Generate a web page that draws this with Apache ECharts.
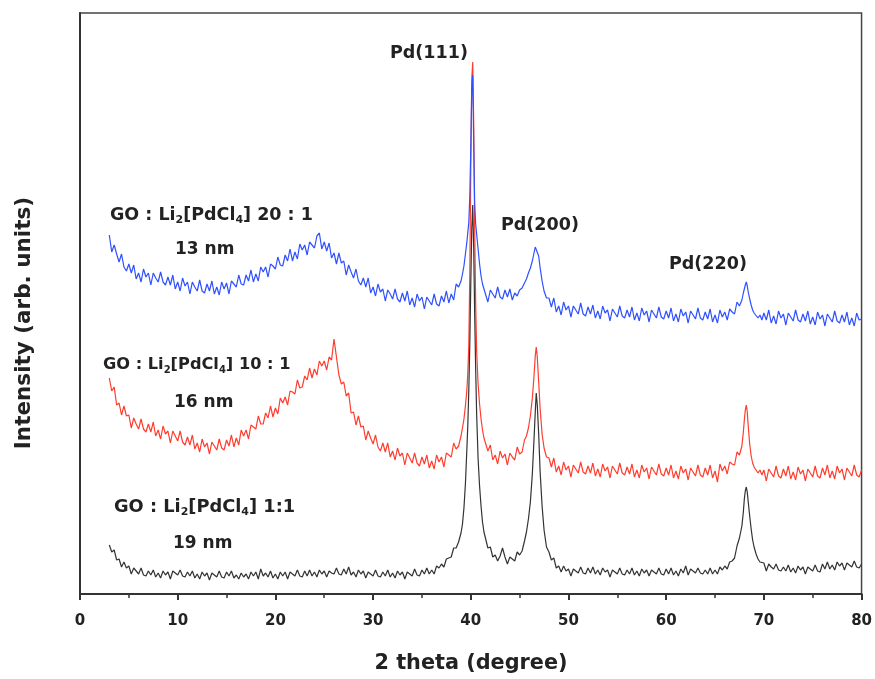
<!DOCTYPE html>
<html>
<head>
<meta charset="utf-8">
<script src="https://cdn.jsdelivr.net/npm/echarts@6/dist/echarts.min.js"></script>
<style>
  html, body { margin: 0; padding: 0; background: #fff; }
  #chart { width: 875px; height: 679px; }
</style>
</head>
<body>
<div id="chart"></div>
<script>
// 2 theta grid (degree): 0.25 steps, finer around the Pd reflections
const twoTheta = [
  3, 3.25, 3.5, 3.75, 4, 4.25, 4.5, 4.75,
  5, 5.25, 5.5, 5.75, 6, 6.25, 6.5, 6.75,
  7, 7.25, 7.5, 7.75, 8, 8.25, 8.5, 8.75,
  9, 9.25, 9.5, 9.75, 10, 10.25, 10.5, 10.75,
  11, 11.25, 11.5, 11.75, 12, 12.25, 12.5, 12.75,
  13, 13.25, 13.5, 13.75, 14, 14.25, 14.5, 14.75,
  15, 15.25, 15.5, 15.75, 16, 16.25, 16.5, 16.75,
  17, 17.25, 17.5, 17.75, 18, 18.25, 18.5, 18.75,
  19, 19.25, 19.5, 19.75, 20, 20.25, 20.5, 20.75,
  21, 21.25, 21.5, 21.75, 22, 22.25, 22.5, 22.75,
  23, 23.25, 23.5, 23.75, 24, 24.25, 24.5, 24.75,
  25, 25.25, 25.5, 25.75, 26, 26.25, 26.5, 26.75,
  27, 27.25, 27.5, 27.75, 28, 28.25, 28.5, 28.75,
  29, 29.25, 29.5, 29.75, 30, 30.25, 30.5, 30.75,
  31, 31.25, 31.5, 31.75, 32, 32.25, 32.5, 32.75,
  33, 33.25, 33.5, 33.75, 34, 34.25, 34.5, 34.75,
  35, 35.25, 35.5, 35.75, 36, 36.25, 36.5, 36.75,
  37, 37.25, 37.5, 37.75, 38, 38.25, 38.5, 38.75,
  39,
  39.15, 39.3, 39.45, 39.6, 39.7, 39.8, 39.9, 40.0, 40.1, 40.2,
  40.3, 40.4, 40.5, 40.6, 40.75, 40.9, 41.05, 41.2, 41.35,
  41.5, 41.75, 42, 42.25, 42.5, 42.75, 43, 43.25, 43.5,
  43.75, 44, 44.25, 44.5, 44.75, 45, 45.25, 45.5,
  45.7, 45.9, 46.1, 46.3, 46.45, 46.6, 46.7, 46.8, 46.95, 47.1, 47.3, 47.5, 47.75,
  48, 48.25, 48.5, 48.75, 49, 49.25, 49.5, 49.75,
  50, 50.25, 50.5, 50.75, 51, 51.25, 51.5, 51.75,
  52, 52.25, 52.5, 52.75, 53, 53.25, 53.5, 53.75,
  54, 54.25, 54.5, 54.75, 55, 55.25, 55.5, 55.75,
  56, 56.25, 56.5, 56.75, 57, 57.25, 57.5, 57.75,
  58, 58.25, 58.5, 58.75, 59, 59.25, 59.5, 59.75,
  60, 60.25, 60.5, 60.75, 61, 61.25, 61.5, 61.75,
  62, 62.25, 62.5, 62.75, 63, 63.25, 63.5, 63.75,
  64, 64.25, 64.5, 64.75, 65, 65.25, 65.5, 65.75,
  66, 66.25, 66.5, 66.75, 67, 67.25, 67.5, 67.75,
  67.9, 68.0, 68.1, 68.2, 68.3, 68.4, 68.55, 68.7, 68.85, 69.0, 69.2, 69.4, 69.6, 69.8,
  70, 70.25, 70.5, 70.75, 71, 71.25, 71.5, 71.75,
  72, 72.25, 72.5, 72.75, 73, 73.25, 73.5, 73.75,
  74, 74.25, 74.5, 74.75, 75, 75.25, 75.5, 75.75,
  76, 76.25, 76.5, 76.75, 77, 77.25, 77.5, 77.75,
  78, 78.25, 78.5, 78.75, 79, 79.25, 79.5, 79.75,
  80
];

// GO : Li2[PdCl4] 1:1 (19 nm), stacked trace, arb. units
const ratio1to1 = [
  49, 42, 44, 34, 35, 27, 32, 26,
  28, 20, 26, 23, 20, 26, 19, 18,
  23, 19, 24, 17, 21, 16, 23, 19,
  22, 15, 23, 21, 19, 24, 18, 17,
  22, 18, 23, 16, 20, 15, 22, 18,
  21, 14, 21, 19, 17, 23, 17, 16,
  22, 18, 23, 16, 19, 15, 21, 17,
  20, 15, 22, 18, 22, 15, 25, 18,
  21, 17, 23, 16, 20, 15, 22, 18,
  22, 15, 22, 20, 18, 24, 18, 17,
  23, 18, 24, 18, 22, 17, 24, 20,
  23, 17, 23, 21, 20, 26, 20, 19,
  25, 20, 27, 19, 22, 17, 24, 20,
  23, 16, 22, 20, 18, 24, 18, 17,
  22, 18, 24, 17, 21, 16, 23, 19,
  22, 15, 22, 20, 18, 25, 19, 18,
  24, 20, 26, 20, 24, 20, 28, 26,
  30, 27, 35, 36, 37, 46, 46, 52,
  61,
  70, 86, 110, 145, 170, 205, 250, 310, 365, 389,
  345, 280, 225, 180, 135, 108, 88, 72, 62,
  56, 46, 47, 37, 39, 33, 38, 46, 37,
  30, 37, 35, 33, 42, 39, 43, 53,
  62, 75, 92, 120, 150, 182, 201, 190, 160, 122, 88, 64, 47,
  42, 34, 36, 26, 28, 22, 28, 23,
  25, 18, 25, 23, 21, 27, 21, 20,
  26, 21, 27, 20, 24, 19, 26, 22,
  24, 17, 24, 22, 20, 26, 20, 19,
  24, 20, 26, 19, 23, 18, 25, 21,
  24, 18, 24, 22, 20, 26, 20, 19,
  25, 20, 26, 19, 23, 18, 25, 21,
  28, 19, 25, 23, 21, 26, 21, 20,
  24, 20, 26, 20, 24, 20, 27, 24,
  28, 25, 32, 33, 36, 48, 56, 68,
  82, 95, 103, 107, 102, 92, 78, 65, 54, 47, 40, 35, 32, 30,
  31, 23, 30, 27, 25, 30, 24, 23,
  27, 23, 29, 22, 26, 21, 28, 24,
  27, 20, 27, 25, 23, 29, 23, 22,
  30, 25, 32, 25, 29, 24, 32, 28,
  31, 24, 31, 29, 27, 33, 27, 26,
  30
];

// GO : Li2[PdCl4] 10:1 (16 nm)
const ratio10to1 = [
  216, 203, 207, 189, 191, 179, 188, 178,
  179, 166, 176, 170, 165, 175, 165, 162,
  170, 162, 172, 158, 164, 155, 168, 160,
  163, 151, 163, 158, 153, 163, 152, 149,
  157, 149, 159, 145, 151, 142, 155, 147,
  151, 140, 152, 148, 144, 155, 146, 144,
  154, 148, 159, 147, 156, 149, 164, 158,
  164, 155, 169, 167, 165, 178, 170, 170,
  181, 176, 188, 177, 186, 180, 196, 191,
  197, 189, 203, 202, 200, 214, 206, 207,
  218, 214, 226, 216, 225, 219, 233, 228,
  233, 224, 237, 234, 255, 237, 219, 210,
  212, 198, 201, 181, 182, 169, 178, 167,
  168, 154, 163, 156, 150, 159, 147, 143,
  151, 142, 151, 137, 143, 134, 146, 138,
  141, 129, 141, 136, 131, 141, 131, 128,
  137, 130, 139, 126, 133, 125, 139, 132,
  137, 127, 141, 139, 137, 151, 145, 148,
  158,
  166, 175, 188, 204, 222, 250, 320, 425, 515, 532,
  470, 365, 290, 243, 210, 190, 175, 164, 156,
  154, 143, 149, 134, 139, 130, 143, 136, 140,
  129, 141, 137, 134, 147, 140, 142, 154,
  158, 166, 178, 196, 215, 238, 247, 238, 212, 185, 160, 146, 137,
  136, 127, 136, 122, 128, 119, 132, 124,
  128, 117, 129, 125, 121, 132, 122, 120,
  128, 121, 131, 118, 125, 117, 130, 123,
  127, 116, 128, 124, 120, 131, 121, 119,
  127, 120, 130, 117, 124, 116, 129, 122,
  126, 115, 127, 123, 119, 130, 120, 118,
  126, 119, 129, 116, 123, 115, 128, 121,
  125, 114, 126, 122, 118, 129, 119, 117,
  126, 119, 129, 116, 123, 112, 130, 123,
  128, 120, 132, 130, 129, 142, 139, 148,
  162, 174, 184, 189, 182, 168, 150, 138, 131, 127, 124, 121, 124, 119,
  124, 113, 125, 121, 117, 128, 118, 116,
  125, 118, 128, 115, 122, 114, 127, 120,
  124, 113, 125, 121, 117, 128, 118, 116,
  126, 119, 129, 116, 123, 115, 128, 121,
  125, 114, 126, 122, 118, 129, 119, 117,
  124
];

// GO : Li2[PdCl4] 20:1 (13 nm)
const ratio20to1 = [
  359, 342, 349, 340, 332, 340, 327, 323,
  330, 321, 329, 315, 321, 312, 325, 317,
  321, 309, 321, 316, 312, 322, 312, 309,
  317, 309, 319, 305, 312, 303, 316, 308,
  312, 300, 312, 307, 303, 314, 303, 301,
  310, 303, 313, 300, 307, 299, 312, 305,
  311, 300, 313, 310, 307, 319, 310, 309,
  319, 313, 324, 312, 320, 313, 327, 322,
  327, 317, 330, 328, 325, 337, 329, 328,
  339, 333, 345, 333, 342, 335, 350, 344,
  349, 339, 352, 349, 346, 358, 361, 345,
  352, 343, 351, 336, 341, 330, 341, 331,
  333, 319, 329, 322, 316, 325, 313, 309,
  316, 307, 316, 301, 307, 298, 310, 302,
  305, 293, 304, 300, 295, 305, 295, 292,
  301, 293, 303, 289, 296, 287, 300, 293,
  297, 285, 297, 293, 289, 300, 290, 288,
  298, 292, 303, 291, 300, 294, 310, 307,
  313,
  320, 328, 340, 352, 362, 372, 398, 445, 505, 519,
  450, 390, 370, 360, 345, 330, 318, 310, 305,
  305, 292, 304, 300, 296, 307, 297, 295, 304,
  297, 305, 294, 301, 298, 304, 306, 311,
  315, 321, 326, 333, 340, 347, 349, 346, 338, 326, 313, 303, 296,
  296, 287, 296, 282, 288, 279, 292, 284,
  288, 277, 288, 284, 280, 291, 280, 278,
  287, 280, 289, 276, 283, 275, 288, 281,
  284, 273, 285, 281, 277, 288, 278, 276,
  284, 277, 287, 274, 281, 273, 286, 279,
  283, 272, 284, 280, 276, 287, 277, 275,
  283, 276, 286, 273, 280, 272, 285, 278,
  282, 271, 283, 279, 275, 286, 276, 274,
  282, 275, 285, 272, 279, 271, 284, 277,
  282, 274, 285, 282, 280, 292, 288, 294,
  301, 305, 309, 312, 308, 302, 295, 289, 284, 281, 279, 276, 279, 274,
  281, 274, 284, 271, 278, 270, 283, 276,
  280, 269, 281, 277, 273, 284, 274, 272,
  280, 273, 283, 270, 277, 269, 282, 275,
  279, 268, 280, 276, 272, 283, 273, 271,
  279, 272, 282, 269, 276, 268, 281, 274,
  275
];

const xTicks = [0, 80, 10];
const peakLabels = ['Pd(111)', 'Pd(200)', 'Pd(220)'];
const sampleLabels = [
  'GO : Li{s|2}[PdCl{s|4}] 20 : 1', '13 nm',
  'GO : Li{s|2}[PdCl{s|4}] 10 : 1', '16 nm',
  'GO : Li{s|2}[PdCl{s|4}] 1:1', '19 nm'
];

const FONT = '"DejaVu Sans", Arial, sans-serif';
const pairs = ys => twoTheta.map((x, i) => [x, ys[i]]);

const trace = (name, ys, color) => ({
  name, type: 'line', data: pairs(ys), showSymbol: false,
  lineStyle: { color, width: 1.2 }, silent: true
});

const label = (text, x, y, size) => ({
  type: 'text', x, y,
  style: {
    text, fontFamily: FONT, fontWeight: 'bold', fontSize: size, fill: '#222',
    verticalAlign: 'middle', lineHeight: size + 4,
    rich: { s: { fontSize: Math.round(size * 0.6), fontWeight: 'bold', fontFamily: FONT, fill: '#222', verticalAlign: 'bottom', lineHeight: 8 } }
  }
});

const chart = echarts.init(document.getElementById('chart'));
chart.setOption({
  animation: false,
  backgroundColor: '#fff',
  grid: { left: 80, right: 12, top: 13, bottom: 85, show: true, borderColor: '#444', borderWidth: 1.5 },
  xAxis: {
    type: 'value', min: xTicks[0], max: xTicks[1], interval: xTicks[2],
    axisLine: { onZero: false, lineStyle: { color: '#333', width: 2 } },
    axisTick: { length: 6, lineStyle: { color: '#333', width: 2 } },
    minorTick: { show: true, splitNumber: 2, length: 4, lineStyle: { color: '#333', width: 1.5 } },
    axisLabel: { margin: 20, color: '#222', fontFamily: FONT, fontWeight: 'bold', fontSize: 15 },
    splitLine: { show: false }
  },
  yAxis: {
    type: 'value', min: 0, max: 581,
    axisLine: { show: true, lineStyle: { color: '#333', width: 2 } },
    axisTick: { show: false }, axisLabel: { show: false }, splitLine: { show: false }
  },
  series: [
    trace('GO : Li2[PdCl4] 10 : 1', ratio10to1, '#ff3d2e'),
    trace('GO : Li2[PdCl4] 20 : 1', ratio20to1, '#2f50ff'),
    trace('GO : Li2[PdCl4] 1:1', ratio1to1, '#333333')
  ],
  graphic: [
    label(peakLabels[0], 390, 53, 17.5),
    label(peakLabels[1], 501, 225, 17.5),
    label(peakLabels[2], 669, 264, 17.5),
    label(sampleLabels[0], 110, 215, 17.5),
    label(sampleLabels[1], 175, 250, 17),
    label(sampleLabels[2], 103, 365, 16.2),
    label(sampleLabels[3], 174, 403, 17),
    label(sampleLabels[4], 114, 507, 17.8),
    label(sampleLabels[5], 173, 544, 17),
    { type: 'text', x: 471, y: 664,
      style: { text: '2 theta (degree)', fontFamily: FONT, fontWeight: 'bold', fontSize: 20.8, fill: '#222', align: 'center', verticalAlign: 'middle' } },
    { type: 'text', x: 24, y: 323, rotation: Math.PI / 2,
      style: { text: 'Intensity (arb. units)', fontFamily: FONT, fontWeight: 'bold', fontSize: 21.5, fill: '#222', align: 'center', verticalAlign: 'middle' } }
  ]
});
</script>
</body>
</html>
